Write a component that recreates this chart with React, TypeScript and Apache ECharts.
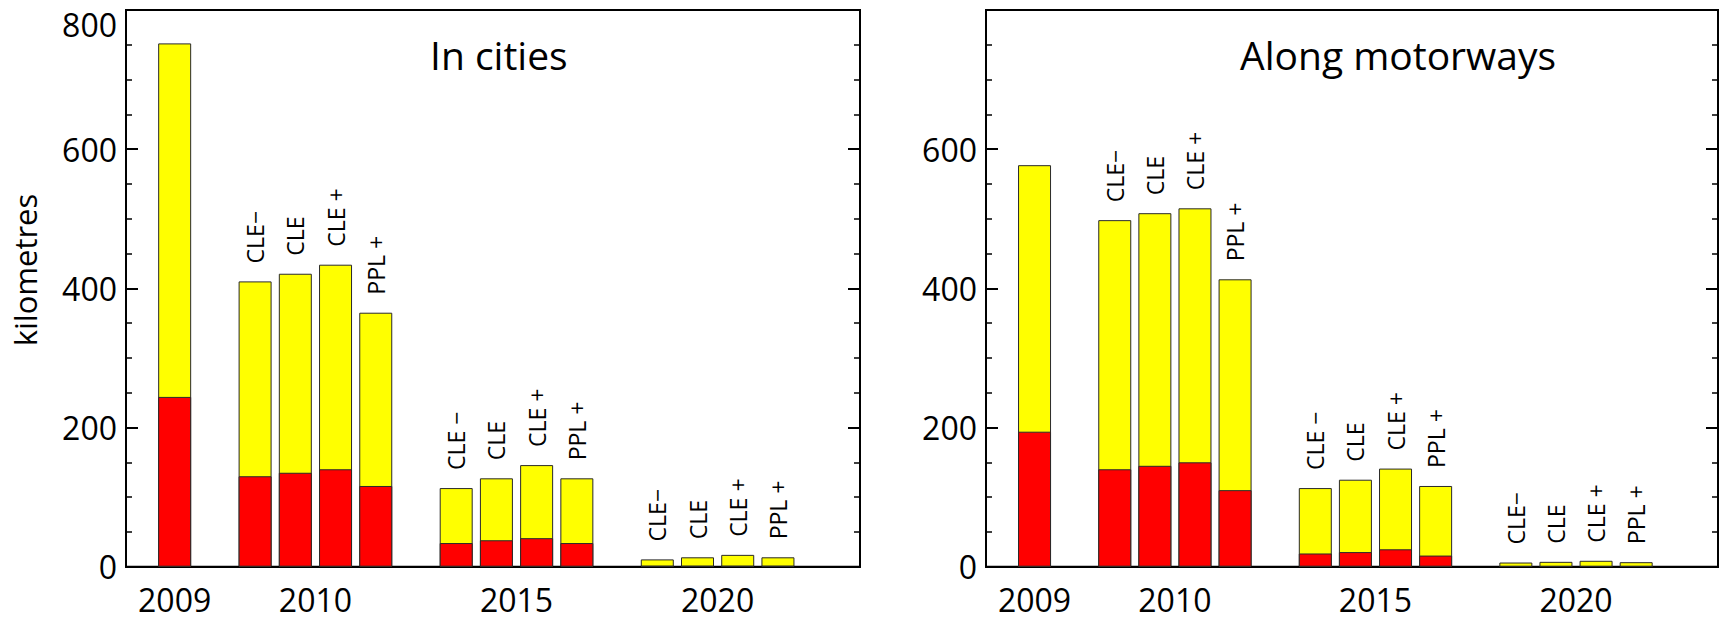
import React, { useEffect, useRef } from "react";
import * as echarts from "echarts";

// ---------- data ----------
const years = ["2009", "2010", "2015", "2020"];
const barYears = ["2009", "2010", "2010", "2010", "2010", "2015", "2015", "2015", "2015", "2020", "2020", "2020", "2020"];
const barLabels = ["", "CLE\u2212", "CLE", "CLE +", "PPL +", "CLE \u2212", "CLE", "CLE +", "PPL +", "CLE\u2212", "CLE", "CLE +", "PPL +"];
const citiesTotal = [752, 410, 421, 434, 365, 113, 127, 146, 127, 10.5, 13.5, 17, 13.5];
const citiesRed = [244, 130, 135, 140, 116, 34, 38, 41, 34, 1, 1, 1, 1];
const motorwaysTotal = [577, 498, 508, 515, 413, 113, 125, 141, 116, 6, 7, 8.5, 6.5];
const motorwaysRed = [194, 140, 145, 150, 110, 19, 21, 25, 16, 0.5, 0.5, 0.5, 0.5];
const panelTitles = ["In cities", "Along motorways"];
const yAxisName = "kilometres";
const yMax = 800;
const yInterval = 200;

// ---------- layout (styles) ----------
const FONT = "Open Sans";
const grids = [
  { left: 126, top: 10, width: 734, height: 556.7 },
  { left: 986, top: 10, width: 732, height: 556.7 },
];
const titlePos = [
  { x: 430, y: 54 },
  { x: 1240, y: 54 },
];

// slot index for each bar: one empty slot between year groups
const slots: number[] = (() => {
  let s = -1;
  let prev: string | null = null;
  return barYears.map((y) => {
    s += prev !== null && prev !== y ? 2 : 1;
    prev = y;
    return s;
  });
})();
const yearCenters = years.map((y) => {
  const ss = slots.filter((_, i) => barYears[i] === y);
  return ss.reduce((a, b) => a + b, 0) / ss.length;
});

function buildOption() {
  const panels = [
    { total: citiesTotal, red: citiesRed },
    { total: motorwaysTotal, red: motorwaysRed },
  ];
  const tickCommon = {
    axisTick: { show: true, inside: true, length: 12, lineStyle: { color: "#000", width: 2 } },
    minorTick: { show: true, splitNumber: 4, length: 6, lineStyle: { color: "#000", width: 1.5 } },
    splitLine: { show: false },
    minorSplitLine: { show: false },
    axisLine: { show: true, onZero: false, lineStyle: { color: "#000", width: 2 } },
  };
  const yAxes: any[] = [];
  panels.forEach((_, p) => {
    yAxes.push({
      type: "value",
      gridIndex: p,
      position: "left",
      min: 0,
      max: yMax,
      interval: yInterval,
      ...tickCommon,
      axisLabel: {
        show: true,
        margin: 9,
        color: "#000",
        fontSize: 32,
        fontFamily: FONT,
        formatter: (v: number) => {
          if (v === yMax) return p === 0 ? "{m|" + v + "}" : "";
          return String(v);
        },
        rich: {
          m: { fontSize: 32, fontFamily: FONT, color: "#000", padding: [28, 0, 0, 0] },
        },
      },
    });
    yAxes.push({
      type: "value",
      gridIndex: p,
      position: "right",
      min: 0,
      max: yMax,
      interval: yInterval,
      ...tickCommon,
      axisLabel: { show: false },
    });
  });

  const xAxes = panels.map((_, p) => ({
    type: "value",
    gridIndex: p,
    position: "bottom",
    min: -1.21,
    max: 17.04,
    axisLine: { show: true, onZero: false, lineStyle: { color: "#000", width: 2 } },
    axisTick: { show: false },
    splitLine: { show: false },
    axisLabel: {
      show: true,
      customValues: yearCenters,
      margin: 17,
      color: "#000",
      fontSize: 32,
      fontFamily: FONT,
      formatter: (v: number) => {
        const idx = yearCenters.findIndex((c) => Math.abs(c - v) < 1e-6);
        return idx >= 0 ? years[idx] : "";
      },
    },
  }));

  const series: any[] = [];
  panels.forEach((d, p) => {
    // full bar (yellow) with the red share drawn over its lower part
    series.push({
      type: "bar",
      xAxisIndex: p,
      yAxisIndex: 2 * p,
      barWidth: 33,
      barGap: "-100%",
      data: slots.map((s, i) => [s, d.total[i]]),
      itemStyle: { color: "#ffff00", borderColor: "#2a2a2a", borderWidth: 1 },
      label: {
        show: true,
        position: "top",
        rotate: 90,
        align: "left",
        verticalAlign: "middle",
        distance: 18,
        color: "#000",
        fontSize: 23,
        fontFamily: FONT,
        formatter: (prm: any) => barLabels[prm.dataIndex],
      },
    });
    series.push({
      type: "bar",
      xAxisIndex: p,
      yAxisIndex: 2 * p,
      barWidth: 33,
      barGap: "-100%",
      data: slots.map((s, i) => [s, d.red[i]]),
      itemStyle: { color: "#ff0000", borderColor: "#2a2a2a", borderWidth: 1 },
    });
  });

  const graphic: any[] = [
    {
      type: "text",
      x: 25,
      y: 270,
      rotation: Math.PI / 2,
      style: { text: yAxisName, fontSize: 31, fontFamily: FONT, fill: "#000", align: "center", verticalAlign: "middle" },
    },
    ...panelTitles.map((t, i) => ({
      type: "text",
      x: titlePos[i].x,
      y: titlePos[i].y,
      style: { text: t, fontSize: 39, fontFamily: FONT, fill: "#000", align: "left", verticalAlign: "middle" },
    })),
  ];

  return {
    animation: false,
    backgroundColor: "#ffffff",
    grid: grids.map((g) => ({ ...g, show: true, borderColor: "#000", borderWidth: 2, backgroundColor: "transparent" })),
    xAxis: xAxes,
    yAxis: yAxes,
    series,
    graphic,
  };
}

export default function App() {
  const ref = useRef<HTMLDivElement>(null);
  useEffect(() => {
    if (!ref.current) return;
    const chart = echarts.init(ref.current, undefined, { renderer: "svg" });
    chart.setOption(buildOption() as any);
    return () => chart.dispose();
  }, []);
  return <div ref={ref} style={{ position: "absolute", left: 0, top: 0, width: 1729, height: 620 }} />;
}
